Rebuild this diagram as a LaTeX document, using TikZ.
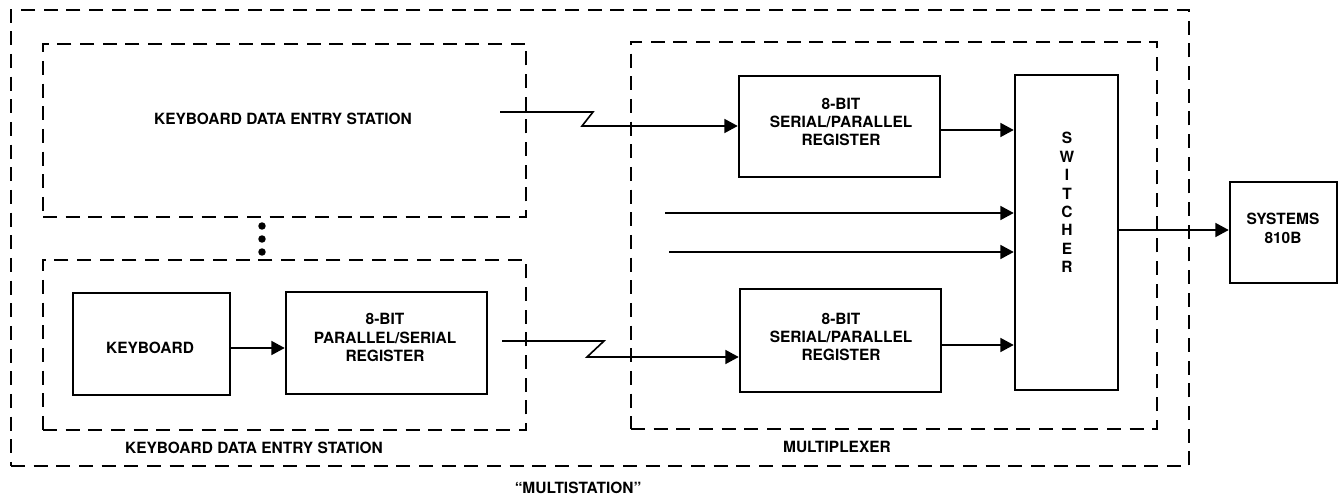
\documentclass[tikz,border=0pt]{standalone}
\usepackage{fontspec}
\setmainfont{TeX Gyre Heros}
\usetikzlibrary{arrows.meta}
\tikzset{
  txt/.style={font=\fontsize{11.6}{13.8}\selectfont\bfseries, inner sep=0pt, align=center},
  blk/.style={draw, line width=1.9pt, inner sep=0pt},
  dbox/.style={draw, line width=2pt, dash pattern=on 10.5pt off 6.5pt, inner sep=0pt},
  conn/.style={line width=1.2pt},
  arr/.style={line width=1.2pt, -{Triangle[length=10pt,width=10.5pt]}},
  dotmark/.style={circle, fill, inner sep=0pt, minimum size=5.6pt}
}
\begin{document}
\begin{tikzpicture}[x=0.75pt,y=-0.75pt]
\useasboundingbox (0,0) rectangle (1343,495);
% dashed frames
\node[dbox, minimum width=883.5pt, minimum height=342pt] (outer) at (600,238) {};
\node[dbox, minimum width=362.25pt, minimum height=129.75pt] (kds1) at (284.5,130.5) {};
\node[dbox, minimum width=362.25pt, minimum height=127.5pt] (kds2) at (284.5,345) {};
\node[dbox, minimum width=394.5pt, minimum height=290.25pt] (mux) at (894,235.5) {};
% blocks
\node[blk, minimum width=117.75pt, minimum height=76.5pt] (kb) at (151.5,344) {};
\node[txt] (kbt) at (150,348) {KEYBOARD};
\node[blk, minimum width=150.75pt, minimum height=76.5pt] (ps) at (386.5,343) {};
\node[txt] (pst) at (385,337.5) {8-BIT\\PARALLEL/SERIAL\\REGISTER};
\node[blk, minimum width=150.75pt, minimum height=75.75pt] (sp1) at (839.5,126.5) {};
\node[txt] (sp1t) at (841,122) {8-BIT\\SERIAL/PARALLEL\\REGISTER};
\node[blk, minimum width=150.75pt, minimum height=77.25pt] (sp2) at (840.5,340.5) {};
\node[txt] (sp2t) at (841,337) {8-BIT\\SERIAL/PARALLEL\\REGISTER};
\node[blk, minimum width=77.25pt, minimum height=236.25pt] (sw) at (1066.5,232.5) {};
\node[txt, font=\fontsize{11.6}{13.8}\selectfont\bfseries] (swt) at (1067,202.5) {S\\W\\I\\T\\C\\H\\E\\R};
\node[blk, minimum width=80.25pt, minimum height=75.75pt] (sys) at (1283.5,232.5) {};
\node[txt] (syst) at (1283,228.5) {SYSTEMS\\810B};
% labels
\node[txt] (l1) at (283,119) {KEYBOARD DATA ENTRY STATION};
\node[txt] (l2) at (254,448) {KEYBOARD DATA ENTRY STATION};
\node[txt] (l3) at (837,447) {MULTIPLEXER};
\node[txt] (l4) at (578,488) {“MULTISTATION”};
% dots
\node[dotmark] (d1) at (262,226) {};
\node[dotmark] (d2) at (262,239) {};
\node[dotmark] (d3) at (262,252) {};
% connectors
\draw[arr] (kb.east |- 0,348) -- (ps.west |- 0,348);
\coordinate (s1) at (500,112);
\coordinate (s2) at (502,341);
\draw[arr] (s1) -- (593,112) -- (582,126) -- (sp1.west |- 0,126);
\draw[arr] (s2) -- (604,341) -- (587,357) -- (sp2.west |- 0,357);
\draw[arr] (sp1.east |- 0,130) -- (sw.west |- 0,130);
\coordinate (i1) at (665,213);
\coordinate (i2) at (669,252);
\draw[arr] (i1) -- (sw.west |- i1);
\draw[arr] (i2) -- (sw.west |- i2);
\draw[arr] (sp2.east |- 0,345) -- (sw.west |- 0,345);
\draw[arr] (sw.east |- 0,230) -- (sys.west |- 0,230);
\end{tikzpicture}
\end{document}
